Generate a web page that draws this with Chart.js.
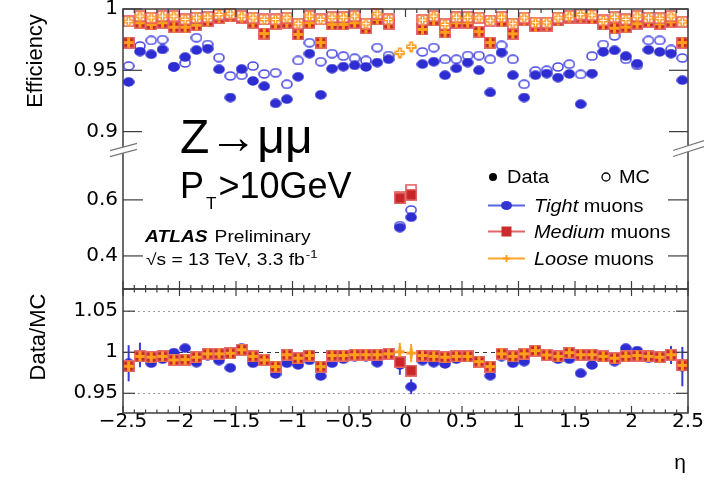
<!DOCTYPE html>
<html lang="en">
<head>
<meta charset="UTF-8" />
<title>Muon efficiency vs eta</title>
<script src="https://cdn.jsdelivr.net/npm/chart.js"></script>
<style>
  html, body { margin: 0; padding: 0; background: #fff; }
  #wrap { width: 704px; height: 483px; }
</style>
</head>
<body>
<div id="wrap"><canvas id="effChart" width="704" height="483"></canvas></div>
<script>
// eta bin centres (50 bins of 0.1)
const etaBins = [-2.45,-2.35,-2.25,-2.15,-2.05,-1.95,-1.85,-1.75,-1.65,-1.55,
  -1.45,-1.35,-1.25,-1.15,-1.05,-0.95,-0.85,-0.75,-0.65,-0.55,
  -0.45,-0.35,-0.25,-0.15,-0.05,0.05,0.15,0.25,0.35,0.45,
  0.55,0.65,0.75,0.85,0.95,1.05,1.15,1.25,1.35,1.45,
  1.55,1.65,1.75,1.85,1.95,2.05,2.15,2.25,2.35,2.45];

const tightData = [0.9405,0.9653,0.963,0.967,0.9527,0.9608,0.9665,0.9676,0.9508,0.9278,
  0.951,0.9413,0.937,0.923,0.9264,0.9447,0.9636,0.930,0.9513,0.953,
  0.954,0.9527,0.9563,0.959,0.501,0.538,0.955,0.957,0.946,0.9516,
  0.9563,0.950,0.9319,0.9644,0.946,0.9278,0.946,0.9473,0.944,0.947,
  0.9224,0.9473,0.965,0.9663,0.9616,0.9554,0.9667,0.965,0.9636,0.9419];
const tightMC = [0.9535,0.9698,0.9744,0.975,0.953,0.956,0.9766,0.971,0.9603,0.9454,
  0.946,0.9535,0.947,0.948,0.9386,0.958,0.9725,0.957,0.9636,0.9616,
  0.9598,0.958,0.9685,0.962,0.508,0.564,0.965,0.9685,0.959,0.959,
  0.962,0.962,0.959,0.9703,0.959,0.9386,0.9495,0.950,0.9527,0.955,
  0.9467,0.9616,0.971,0.978,0.959,0.954,0.9744,0.9744,0.967,0.960];

const mediumData = [0.9726,0.9888,0.9874,0.9888,0.9852,0.9852,0.9868,0.9901,0.9928,0.9942,
  0.9928,0.9888,0.980,0.988,0.9888,0.9793,0.9888,0.9726,0.9874,0.9874,
  0.9888,0.9843,0.9915,0.988,0.606,0.618,0.9833,0.9907,0.981,0.9888,
  0.9888,0.9815,0.9726,0.990,0.9798,0.991,0.986,0.9865,0.9907,0.993,
  0.993,0.9924,0.9874,0.9843,0.9852,0.988,0.9895,0.988,0.9895,0.9726];
const mediumMC = [0.990,0.9942,0.9928,0.9942,0.9942,0.9915,0.9928,0.9933,0.9955,0.9961,
  0.9942,0.9928,0.9915,0.9915,0.9928,0.988,0.9942,0.9915,0.9933,0.9933,
  0.9942,0.988,0.9961,0.9915,0.612,0.636,0.991,0.9942,0.9874,0.9933,
  0.9933,0.9928,0.9905,0.9933,0.988,0.9928,0.9888,0.9888,0.9928,0.9942,
  0.9955,0.995,0.9907,0.9933,0.9915,0.9942,0.9928,0.9924,0.9942,0.9896];

const looseData = [0.9726,0.9888,0.9874,0.9888,0.9852,0.9852,0.9868,0.9901,0.9928,0.9942,
  0.9928,0.9888,0.980,0.988,0.9888,0.9793,0.9888,0.9726,0.9874,0.9874,
  0.9888,0.9843,0.9915,0.988,0.9636,0.9685,0.9833,0.9907,0.981,0.9888,
  0.9888,0.9815,0.9726,0.990,0.9798,0.991,0.986,0.9865,0.9907,0.993,
  0.993,0.9924,0.9874,0.9843,0.9852,0.988,0.9895,0.988,0.9895,0.9726];
const looseMC = [0.990,0.9942,0.9928,0.9942,0.9942,0.9915,0.9928,0.9933,0.9955,0.9961,
  0.9942,0.9928,0.9915,0.9915,0.9928,0.988,0.9942,0.9915,0.9933,0.9933,
  0.9942,0.988,0.9961,0.9915,0.9645,0.9695,0.991,0.9942,0.9874,0.9933,
  0.9933,0.9928,0.9905,0.9933,0.988,0.9928,0.9888,0.9888,0.9928,0.9942,
  0.9955,0.995,0.9907,0.9933,0.9915,0.9942,0.9928,0.9924,0.9942,0.9896];

// Data/MC ratio panel
const ratioTight = [0.9866,0.9967,0.9866,0.9915,0.9995,1.0049,0.9873,0.9955,0.9898,0.981,
  1.0049,0.9866,0.9898,0.9735,0.9866,0.9845,0.990,0.971,0.9866,0.9915,
  0.9947,0.9947,0.9873,0.9967,0.9845,0.958,0.9898,0.9873,0.9857,0.9915,
  0.9947,0.9866,0.9715,0.9947,0.9866,0.9886,1.002,0.9967,0.9915,0.9915,
  0.9744,0.9845,0.9955,0.9886,1.0049,1.002,0.9927,0.9927,0.9967,0.9825];
const ratioMedium = [0.983,0.995,0.994,0.995,0.9906,0.991,0.994,0.998,0.998,0.9987,
  1.003,0.995,0.9906,0.9825,0.997,0.9927,0.996,0.9825,0.996,0.996,
  0.997,0.997,0.997,0.998,0.988,0.9776,0.996,0.995,0.994,0.995,
  0.995,0.9886,0.9825,0.998,0.995,0.998,1.002,0.9967,0.995,0.9995,
  0.997,0.997,0.995,0.9927,0.995,0.996,0.995,0.994,0.997,0.984];
const ratioLoose = [0.983,0.995,0.994,0.995,0.9906,0.991,0.994,0.998,0.998,0.9987,
  1.003,0.995,0.9906,0.9825,0.997,0.9927,0.996,0.9825,0.996,0.996,
  0.997,0.997,0.997,0.998,1.0005,0.999,0.996,0.995,0.994,0.995,
  0.995,0.9886,0.9825,0.998,0.995,0.998,1.002,0.9967,0.995,0.9995,
  0.997,0.997,0.995,0.9927,0.995,0.996,0.995,0.994,0.997,0.984];
const ratioTightErr = [0.022,0.015,0.002,0.002,0.002,0.002,0.002,0.002,0.002,0.002,
  0.002,0.002,0.002,0.002,0.002,0.002,0.002,0.002,0.002,0.002,
  0.002,0.002,0.002,0.002,0.012,0.009,0.002,0.002,0.002,0.002,
  0.002,0.002,0.002,0.002,0.002,0.002,0.002,0.002,0.002,0.002,
  0.002,0.002,0.002,0.002,0.002,0.002,0.002,0.006,0.011,0.024];
const ratioLooseErr = [0.007,0.003,0.001,0.001,0.001,0.001,0.001,0.001,0.001,0.001,
  0.001,0.001,0.001,0.001,0.001,0.001,0.001,0.001,0.001,0.001,
  0.001,0.001,0.001,0.001,0.011,0.011,0.001,0.001,0.001,0.001,
  0.001,0.001,0.001,0.001,0.001,0.001,0.001,0.001,0.001,0.001,
  0.001,0.001,0.001,0.001,0.001,0.001,0.001,0.004,0.004,0.008];

// tick labels
const xTicks = [-2.5,-2,-1.5,-1,-0.5,0,0.5,1,1.5,2,2.5];
const topTicks = [0.9,0.95,1];
const midTicks = [0.4,0.6];
const ratioTicks = [0.95,1,1.05];

// marker images (ROOT-like markers)
function makeMarker(w, h, paint) {
  const c = document.createElement('canvas');
  c.width = w; c.height = h;
  paint(c.getContext('2d'));
  return c;
}
const mkTightData = makeMarker(12, 10, g => {
  g.fillStyle = '#2d2dd2'; g.beginPath(); g.ellipse(6, 5, 5.8, 4.7, 0, 0, Math.PI * 2); g.fill();
});
const mkTightMC = makeMarker(12, 10, g => {
  g.strokeStyle = '#4848e2'; g.lineWidth = 1.6; g.beginPath(); g.ellipse(6, 5, 5, 4, 0, 0, Math.PI * 2); g.stroke();
});
const mkMedData = makeMarker(12, 12, g => {
  g.fillStyle = '#e46c6c'; g.fillRect(0, 0, 12, 12);
  g.fillStyle = '#c82626'; g.fillRect(1.5, 1.5, 9, 9);
});
const mkMedMC = makeMarker(12, 12, g => {
  g.fillStyle = '#fff'; g.fillRect(1, 1, 10, 10);
  g.strokeStyle = '#e25a5a'; g.lineWidth = 1.6; g.strokeRect(1, 1, 10, 10);
});
const mkLooseData = makeMarker(11, 11, g => {
  g.fillStyle = '#ffa01c'; g.fillRect(4, 0.5, 3, 10); g.fillRect(0.5, 4, 10, 3);
});
const mkLooseMC = makeMarker(11, 11, g => {
  g.fillStyle = '#ff9c24'; g.fillRect(3.5, 0.5, 4, 10); g.fillRect(0.5, 3.5, 10, 4);
  g.fillStyle = '#fff'; g.fillRect(5, 2, 1, 7); g.fillRect(2, 5, 7, 1);
});

const inTop = v => v >= 0.885;
const inMid = v => v < 0.885;
const all = () => true;

function series(label, values, axis, keep, marker, order) {
  return {
    label: label,
    data: etaBins.map((x, i) => ({ x: x, y: values[i] })).filter(p => keep(p.y)),
    yAxisID: axis,
    pointStyle: marker,
    pointRadius: 5,
    pointHoverRadius: 5,
    order: order,
    clip: false
  };
}

const fmtNum = v => (v < 0 ? '\u2212' : '') + Math.abs(v);

function yAxis(min, max, weight, ticks) {
  return {
    type: 'linear',
    position: 'left',
    stack: 'eff',
    stackWeight: weight,
    min: min,
    max: max,
    grid: { display: false, drawTicks: false },
    border: { display: false },
    ticks: {
      color: '#000',
      padding: 5,
      font: { family: 'DejaVu Sans', size: 20 },
      callback: v => fmtNum(v)
    },
    afterBuildTicks: s => { s.ticks = ticks.map(v => ({ value: v })); },
    afterFit: s => { s.width = 123; s.paddingTop = 0; s.paddingBottom = 0; }
  };
}

function text(ctx, s, x, y, font, sx) {
  ctx.save();
  ctx.font = font;
  ctx.fillStyle = '#000';
  ctx.translate(x, y);
  ctx.scale(sx || 1, 1);
  ctx.fillText(s, 0, 0);
  const w = ctx.measureText(s).width * (sx || 1);
  ctx.restore();
  return w;
}

const atlasDecor = {
  id: 'atlasDecor',
  beforeDatasetsDraw(chart) {
    const { ctx, chartArea: a, scales } = chart;
    const x = scales.x, r = scales.yRatio;
    ctx.save();
    const hline = (v) => {
      const y = Math.round(r.getPixelForValue(v)) + 0.5;
      ctx.beginPath(); ctx.moveTo(a.left, y); ctx.lineTo(a.right, y); ctx.stroke();
    };
    ctx.lineWidth = 1;
    ctx.strokeStyle = '#9c9c9c';
    ctx.setLineDash([2, 3]);
    ratioTicks.filter(v => v !== 1).forEach(hline);
    ctx.strokeStyle = '#333';
    ctx.setLineDash([4, 4]);
    hline(1);
    ctx.setLineDash([]);
    ctx.lineWidth = 2;
    const errs = (vals, errs, color) => {
      ctx.strokeStyle = color;
      etaBins.forEach((eta, i) => {
        const px = x.getPixelForValue(eta);
        ctx.beginPath();
        ctx.moveTo(px, r.getPixelForValue(vals[i] - errs[i]));
        ctx.lineTo(px, r.getPixelForValue(vals[i] + errs[i]));
        ctx.stroke();
      });
    };
    errs(ratioTight, ratioTightErr, '#3a3ad8');
    errs(ratioLoose, ratioLooseErr, '#ffa01c');
    ctx.restore();
  },
  afterDraw(chart) {
    const { ctx, scales } = chart;
    const x = scales.x, yt = scales.yTop, ym = scales.yMid, yr = scales.yRatio;
    const L = x.left, R = x.right;
    ctx.save();
    ctx.strokeStyle = '#3c3c3c';
    ctx.lineWidth = 1.5;
    // frames
    ctx.strokeRect(L, yt.top, R - L, ym.bottom - yt.top);
    ctx.strokeRect(L, yr.top, R - L, yr.bottom - yr.top);
    // x ticks (inward)
    ctx.lineWidth = 1.2;
    const xt = (y, dir, maj, mnr) => {
      for (let k = -25; k <= 25; k++) {
        const px = x.getPixelForValue(k / 10);
        const len = k % 5 === 0 ? maj : mnr;
        ctx.beginPath(); ctx.moveTo(px, y); ctx.lineTo(px, y + dir * len); ctx.stroke();
      }
    };
    xt(yt.top, 1, 8, 4);
    xt(ym.bottom, -1, 8, 4);
    xt(yr.top, 1, 7, 3.5);
    xt(yr.bottom, -1, 7, 3.5);
    // y ticks (inward, both sides)
    const yticks = (scale, vals, len) => {
      vals.forEach(v => {
        const py = scale.getPixelForValue(v);
        ctx.beginPath(); ctx.moveTo(L, py); ctx.lineTo(L + len, py); ctx.stroke();
        ctx.beginPath(); ctx.moveTo(R, py); ctx.lineTo(R - len, py); ctx.stroke();
      });
    };
    yticks(yt, topTicks, 19);
    yticks(ym, midTicks, 20);
    yticks(yr, ratioTicks, 12);
    // axis break marks
    const s = yt.bottom;
    const brk = (x0, x1, d0, d1) => {
      ctx.fillStyle = '#fff';
      ctx.beginPath();
      ctx.moveTo(x0, s + d0); ctx.lineTo(x1, s + d1);
      ctx.lineTo(x1, s + d1 + 6); ctx.lineTo(x0, s + d0 + 6);
      ctx.closePath(); ctx.fill();
      ctx.strokeStyle = '#777';
      ctx.lineWidth = 1.2;
      [0, 6].forEach(o => {
        ctx.beginPath(); ctx.moveTo(x0, s + d0 + o); ctx.lineTo(x1, s + d1 + o); ctx.stroke();
      });
    };
    brk(110, 137, 0.7, -6.7);
    brk(673, 704, 0.5, -9.5);
    ctx.restore();

    // axis titles
    ctx.save();
    ctx.font = '22px "Liberation Sans", Arial, sans-serif';
    ctx.fillStyle = '#000';
    ctx.textAlign = 'center';
    ctx.translate(42, 61); ctx.rotate(-Math.PI / 2); ctx.fillText('Efficiency', 0, 0);
    ctx.restore();
    ctx.save();
    ctx.font = '22px "Liberation Sans", Arial, sans-serif';
    ctx.fillStyle = '#000';
    ctx.textAlign = 'center';
    ctx.translate(45, 337); ctx.rotate(-Math.PI / 2); ctx.fillText('Data/MC', 0, 0);
    ctx.restore();
    ctx.save();
    ctx.font = '21px "Liberation Sans", Arial, sans-serif';
    ctx.fillStyle = '#000';
    ctx.textAlign = 'center';
    ctx.fillText('\u03b7', 680, 469);
    ctx.restore();

    // annotations
    const sans = '"Liberation Sans", Arial, sans-serif';
    text(ctx, 'Z\u2192\u03bc\u03bc', 180, 153, '48px ' + sans);
    const wp = text(ctx, 'P', 180, 198, '36px ' + sans);
    const wt = text(ctx, 'T', 180 + wp + 2, 209, '17px ' + sans);
    text(ctx, '>10GeV', 180 + wp + wt + 4, 198, '36px ' + sans);

    const wa = text(ctx, 'ATLAS', 145, 242, 'bold italic 16px ' + sans, 1.2);
    text(ctx, 'Preliminary', 145 + wa + 7, 242, '16px ' + sans, 1.2);
    const ws = text(ctx, '\u221as = 13 TeV, 3.3 fb', 146, 265, '16px ' + sans, 1.2);
    text(ctx, '-1', 146 + ws + 1, 258, '11px ' + sans, 1.2);

    // legend
    ctx.save();
    ctx.fillStyle = '#000';
    ctx.beginPath(); ctx.arc(493, 177, 4, 0, Math.PI * 2); ctx.fill();
    ctx.strokeStyle = '#000'; ctx.lineWidth = 1.3;
    ctx.beginPath(); ctx.arc(606, 177, 4, 0, Math.PI * 2); ctx.stroke();
    ctx.restore();
    text(ctx, 'Data', 507, 183, '19px ' + sans, 1.05);
    text(ctx, 'MC', 619, 183, '19px ' + sans, 1.05);

    const rows = [
      { name: 'Tight', y: 212, color: '#5866e6', mark: 'circle' },
      { name: 'Medium', y: 238, color: '#e06666', mark: 'square' },
      { name: 'Loose', y: 265, color: '#ffa52a', mark: 'cross' }
    ];
    rows.forEach(row => {
      const ly = row.y - 6.5;
      ctx.save();
      ctx.strokeStyle = row.color; ctx.lineWidth = 2;
      ctx.beginPath(); ctx.moveTo(488, ly); ctx.lineTo(525, ly); ctx.stroke();
      if (row.mark === 'circle') {
        ctx.fillStyle = '#3434d4';
        ctx.beginPath(); ctx.ellipse(506.5, ly, 5.5, 4.5, 0, 0, Math.PI * 2); ctx.fill();
      } else if (row.mark === 'square') {
        ctx.fillStyle = '#cc2b2b'; ctx.fillRect(501.5, ly - 5, 10, 10);
      } else {
        ctx.fillStyle = '#ffa01c'; ctx.fillRect(505.5, ly - 3.5, 2, 7); ctx.fillRect(503, ly - 1, 7, 2);
      }
      ctx.restore();
      const wi = text(ctx, row.name, 534, row.y, 'italic 19px ' + sans, 1.05);
      text(ctx, ' muons', 534 + wi, row.y, '19px ' + sans, 1.05);
    });
  }
};

const ctx = document.getElementById('effChart').getContext('2d');
new Chart(ctx, {
  type: 'scatter',
  data: {
    datasets: [
      series('Loose MC', looseMC, 'yTop', inTop, mkLooseMC, 1),
      series('Medium MC', mediumMC, 'yTop', inTop, mkMedMC, 2),
      series('Loose data', looseData, 'yTop', inTop, mkLooseData, 3),
      series('Medium data', mediumData, 'yTop', inTop, mkMedData, 4),
      series('Tight data', tightData, 'yTop', inTop, mkTightData, 5),
      series('Tight MC', tightMC, 'yTop', inTop, mkTightMC, 6),
      series('Medium data low', mediumData, 'yMid', inMid, mkMedData, 2),
      series('Medium MC low', mediumMC, 'yMid', inMid, mkMedMC, 4),
      series('Tight data low', tightData, 'yMid', inMid, mkTightData, 5),
      series('Tight MC low', tightMC, 'yMid', inMid, mkTightMC, 6),
      series('Loose ratio', ratioLoose, 'yRatio', all, mkLooseData, 1),
      series('Medium ratio', ratioMedium, 'yRatio', all, mkMedData, 3),
      series('Tight ratio', ratioTight, 'yRatio', all, mkTightData, 5)
    ]
  },
  options: {
    responsive: false,
    animation: false,
    layout: { padding: { top: 9, right: 16, left: 0, bottom: 0 } },
    plugins: { legend: { display: false }, tooltip: { enabled: false } },
    scales: {
      x: {
        type: 'linear',
        position: 'bottom',
        min: -2.5,
        max: 2.5,
        grid: { display: false, drawTicks: false },
        border: { display: false },
        ticks: {
          color: '#000',
          padding: -3,
          maxRotation: 0,
          autoSkip: false,
          font: { family: 'DejaVu Sans', size: 20 },
          callback: v => fmtNum(v)
        },
        afterBuildTicks: s => { s.ticks = xTicks.map(v => ({ value: v })); },
        afterFit: s => { s.height = 70; s.paddingLeft = 0; s.paddingRight = 0; }
      },
      yRatio: Object.assign(yAxis(0.926, 1.077, 124, ratioTicks), { weight: 1 }),
      yMid: Object.assign(yAxis(0.282, 0.778, 139, midTicks), { weight: 2 }),
      yTop: Object.assign(yAxis(0.885, 1.0, 141, topTicks), { weight: 3 })
    }
  },
  plugins: [atlasDecor]
});
</script>
</body>
</html>
